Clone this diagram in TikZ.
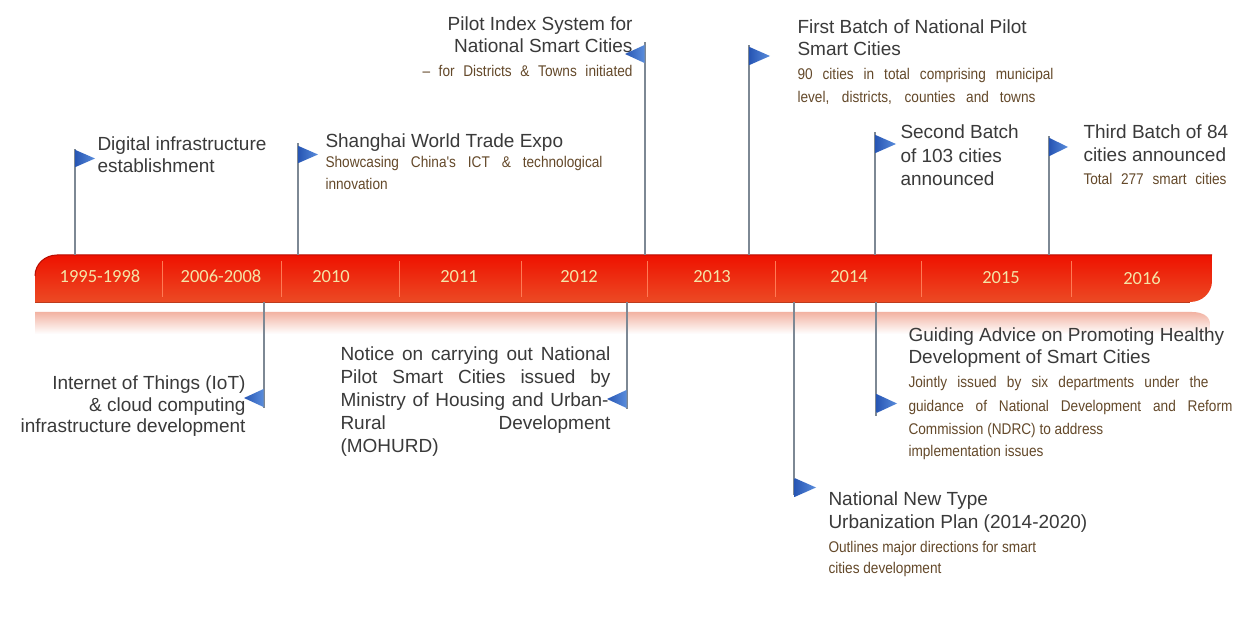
\documentclass[tikz,border=0pt]{standalone}
\usepackage{fontspec}
\setmainfont{Liberation Sans}
\newfontfamily\narrowfam[FakeStretch=0.88]{Liberation Sans}
\newfontfamily\yearfam{Carlito}

\definecolor{maintext}{HTML}{3A3A3A}
\definecolor{subtext}{HTML}{64492A}
\definecolor{yeartext}{HTML}{F4E4A6}
\definecolor{barTop}{HTML}{EE1200}
\definecolor{barMid}{HTML}{FF2400}
\definecolor{barBot}{HTML}{EC4A24}
\definecolor{barEdge}{HTML}{B80C00}
\definecolor{divider}{HTML}{FF7A55}
\definecolor{pole}{HTML}{7D8894}
\definecolor{flagDark}{HTML}{2756B4}
\definecolor{flagLight}{HTML}{5A8DDC}
\definecolor{glow}{HTML}{F2B2A2}

% text helpers: rows of zero width, baseline distances set explicitly
\newcommand\mainf{\fontsize{19}{22}\selectfont\color{maintext}}
\newcommand\subf{\narrowfam\fontsize{15.5}{22}\selectfont\color{subtext}}
\newcommand\Lrow[1]{\hbox to 0pt{\smash{#1}\hss}}
\newcommand\Rrow[1]{\hbox to 0pt{\hss\smash{#1}}}
\newcommand\Jrow[2]{\hbox to 0pt{\smash{\subf\makebox[#1pt][s]{#2}}\hss}}
\newcommand\gap[1]{\vskip#1pt\relax}
\newcommand\block[1]{\vtop{\offinterlineskip#1}}

\begin{document}
\begin{tikzpicture}[x=1pt,y=-1pt,
  txt/.style={anchor=base west,inner sep=0pt,outer sep=0pt},
  yearlbl/.style={anchor=base,inner sep=0pt,text=yeartext,
    font=\yearfam\fontsize{18.5}{20}\selectfont},
  polestyle/.style={draw=pole,line width=1.1pt},
  flagstyle/.style={left color=flagDark,right color=flagLight,draw=none}]

\useasboundingbox[fill=white] (0,0) rectangle (1240,617);

% soft reflection under the bar
\shade[top color=glow,bottom color=white]
  (35,312) -- (1192,312) .. controls (1202,312) and (1210,316) .. (1210,324)
  -- (1210,334) -- (35,334) -- cycle;

% the red time bar
\shade[top color=barTop,middle color=barMid,bottom color=barBot]
  (35,302) -- (35,276) .. controls (35,264) and (45,255) .. (57,255) -- (1212,255)
  -- (1212,281) .. controls (1212,293) and (1202,302) .. (1190,302) -- cycle;
\draw[barEdge,line width=1pt]
  (35,276) .. controls (35,264) and (45,255) .. (57,255) -- (1212,255);
\draw[barBot!80!black,line width=0.6pt] (35,302) -- (1190,302);
\foreach \x in {162,281,399,521,647,775,921,1071}
  \draw[divider,line width=0.6pt] (\x,261) -- (\x,297);

% year labels
\node[yearlbl] (y1) at (100,283) {1995-1998};
\node[yearlbl] (y2) at (221,283) {2006-2008};
\node[yearlbl] (y3) at (331,283) {2010};
\node[yearlbl] (y4) at (459,283) {2011};
\node[yearlbl] (y5) at (579,283) {2012};
\node[yearlbl] (y6) at (712,283) {2013};
\node[yearlbl] (y7) at (849,283) {2014};
\node[yearlbl] (y8) at (1001,284) {2015};
\node[yearlbl] (y9) at (1142,285) {2016};

% event texts above the bar
\node[txt] (digital) at (97,151) {\block{%
  \Lrow{\mainf Digital infrastructure}\gap{22}%
  \Lrow{\mainf establishment}}};
\node[txt] (expo) at (325,148) {\block{%
  \Lrow{\mainf Shanghai World Trade Expo}\gap{20}%
  \Jrow{277}{Showcasing China's ICT \& technological}\gap{22}%
  \Lrow{\subf innovation}}};
\node[txt] (pilot) at (632,31) {\block{%
  \Rrow{\mainf Pilot Index System for}\gap{22}%
  \Rrow{\mainf National Smart Cities}\gap{24}%
  \Rrow{\subf\makebox[210pt][s]{– for Districts \& Towns initiated}}}};
\node[txt] (first) at (797,34) {\block{%
  \Lrow{\mainf First Batch of National Pilot}\gap{22}%
  \Lrow{\mainf Smart Cities}\gap{24}%
  \Jrow{256}{90 cities in total comprising municipal}\gap{23}%
  \Jrow{238}{level, districts, counties and towns}}};
\node[txt] (second) at (900,139) {\block{%
  \Lrow{\mainf Second Batch}\gap{23.5}%
  \Lrow{\mainf of 103 cities}\gap{23.5}%
  \Lrow{\mainf announced}}};
\node[txt] (third) at (1083,139) {\block{%
  \Lrow{\mainf Third Batch of 84}\gap{23}%
  \Lrow{\mainf cities announced}\gap{23}%
  \Jrow{143}{Total 277 smart cities}}};

% event texts below the bar
\node[txt] (iot) at (245,390) {\block{%
  \Rrow{\mainf Internet of Things (IoT)}\gap{21.5}%
  \Rrow{\mainf \& cloud computing}\gap{21.5}%
  \Rrow{\mainf infrastructure development}}};
\node[txt] (notice) at (340,361) {\block{%
  \Lrow{\mainf\makebox[270pt][s]{Notice on carrying out National}}\gap{22.5}%
  \Lrow{\mainf\makebox[270pt][s]{Pilot Smart Cities issued by}}\gap{23}%
  \Lrow{\mainf\makebox[268pt][s]{Ministry of Housing and Urban-}}\gap{23}%
  \Lrow{\mainf\makebox[270pt][s]{Rural Development}}\gap{23}%
  \Lrow{\mainf (MOHURD)}}};
\node[txt] (guiding) at (908,342) {\block{%
  \Lrow{\mainf Guiding Advice on Promoting Healthy}\gap{22}%
  \Lrow{\mainf Development of Smart Cities}\gap{24}%
  \Jrow{300}{Jointly issued by six departments under the}\gap{24}%
  \Jrow{324}{guidance of National Development and Reform}\gap{23}%
  \Lrow{\subf Commission (NDRC) to address}\gap{22}%
  \Lrow{\subf implementation issues}}};
\node[txt] (urban) at (828,505) {\block{%
  \Lrow{\mainf National New Type}\gap{23}%
  \Lrow{\mainf Urbanization Plan (2014-2020)}\gap{24}%
  \Lrow{\subf Outlines major directions for smart}\gap{21}%
  \Lrow{\subf cities development}}};

% flag poles: foot on the bar, head at the flag
\coordinate (f1) at (75,149);   \coordinate (b1) at (75,255);
\coordinate (f2) at (298,143);  \coordinate (b2) at (298,255);
\coordinate (f3) at (645,42);   \coordinate (b3) at (645,255);
\coordinate (f4) at (749,45);   \coordinate (b4) at (749,255);
\coordinate (f5) at (875,132);  \coordinate (b5) at (875,255);
\coordinate (f6) at (1049,136); \coordinate (b6) at (1049,255);
\coordinate (f7) at (264,408);  \coordinate (b7) at (264,302);
\coordinate (f8) at (627,409);  \coordinate (b8) at (627,302);
\coordinate (f9) at (794,495);  \coordinate (b9) at (794,302);
\coordinate (f10) at (876,416); \coordinate (b10) at (876,302);
\foreach \i in {1,...,10} \draw[polestyle] (b\i) -- (f\i);

% pennants
\shade[flagstyle] (75.5,150) -- (95,158.5) -- (75.5,167) -- cycle;
\shade[flagstyle] (298.5,146) -- (318,154.5) -- (298.5,163) -- cycle;
\shade[flagstyle] (644.5,45) -- (625,54) -- (644.5,63) -- cycle;
\shade[flagstyle] (749.5,47) -- (770,56) -- (749.5,65) -- cycle;
\shade[flagstyle] (875.5,135) -- (896,144) -- (875.5,153) -- cycle;
\shade[flagstyle] (1049.5,138) -- (1068,147) -- (1049.5,156) -- cycle;
\shade[flagstyle] (263.5,389) -- (244,398) -- (263.5,407) -- cycle;
\shade[flagstyle] (626.5,390) -- (607,399) -- (626.5,408) -- cycle;
\shade[flagstyle] (794.5,478) -- (816,487.5) -- (794.5,497) -- cycle;
\shade[flagstyle] (876.5,394) -- (897,403.5) -- (876.5,413) -- cycle;
\end{tikzpicture}
\end{document}
